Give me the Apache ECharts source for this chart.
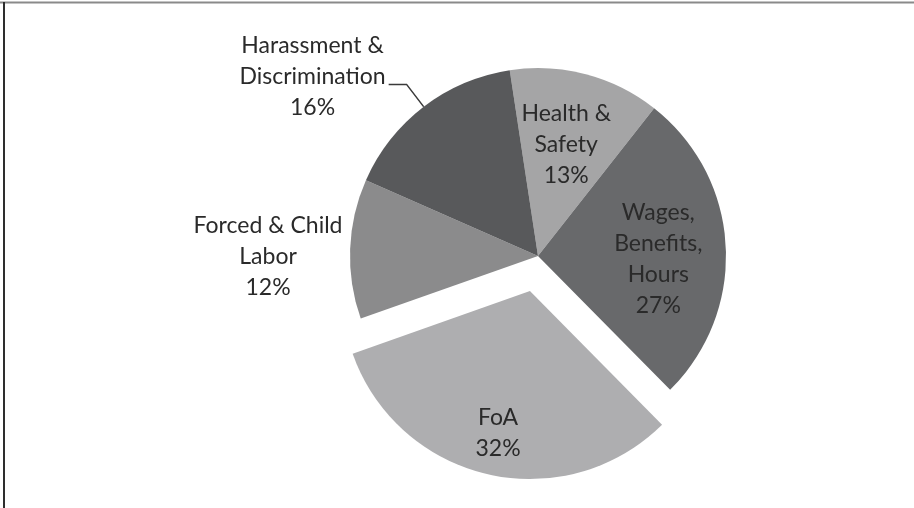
<!DOCTYPE html>
<html>
<head>
<meta charset="utf-8">
<title>Complaint categories</title>
<script src="https://cdn.jsdelivr.net/npm/echarts@6/dist/echarts.min.js"></script>
<style>
  html, body { margin: 0; padding: 0; background: #ffffff; }
  #chart { width: 914px; height: 508px; }
</style>
</head>
<body>
<div id="chart"></div>
<script>
// Share of cases by issue (percent), clockwise from the top
const categories = ['Health &\nSafety', 'Wages,\nBenefits,\nHours', 'FoA', 'Forced & Child\nLabor', 'Harassment &\nDiscrimination'];
const shares = [13, 27, 32, 12, 16];
const sliceColors = ['#a5a5a6', '#68696b', '#aeaeb0', '#8b8b8c', '#58595b'];
const pulledOut = 'FoA';

// Pie geometry
const CX = 538, CY = 256, R = 188;
const START_ANGLE = 98.65;
const PULL = 36;

// Label placement per slice: radial factor (of R) and angle tweak (deg)
const labelSpots = [
  { r: 0.61, da: 0.5 },
  { r: 0.64, da: -4.5 },
  { r: 0.775, da: 0.3 },
  { r: 1.436, da: 2.2 },
  null // leader-line label
];

const total = shares.reduce((a, b) => a + b, 0);
const pulledIndex = categories.indexOf(pulledOut);

function midAngle(i) {
  let before = 0;
  for (let k = 0; k < i; k++) before += shares[k];
  return START_ANGLE - (before + shares[i] / 2) / total * 360;
}
function polar(cx, cy, deg, r) {
  const a = deg * Math.PI / 180;
  return [cx + r * Math.cos(a), cy - r * Math.sin(a)];
}
// The pulled-out slice is drawn by a second pie whose centre is shifted along the slice's bisector
const pulledCenter = polar(CX, CY, midAngle(pulledIndex), PULL);

function buildData(visibleFn) {
  return categories.map((name, i) => {
    const visible = visibleFn(i);
    const item = {
      name: name,
      value: shares[i],
      itemStyle: { color: visible ? sliceColors[i] : 'rgba(0,0,0,0)' },
      label: { show: visible },
      labelLine: { show: false }
    };
    if (visible && labelSpots[i] === null) {
      item.label.position = 'outside';
      item.labelLine = { show: true, length: 28, length2: 18 };
    } else if (visible && labelSpots[i].r > 1) {
      item.label.position = 'outside';
    }
    return item;
  });
}

function layoutLabel(params) {
  const i = params.dataIndex;
  const mid = midAngle(i);
  const spot = labelSpots[i];
  if (spot) {
    const c = i === pulledIndex ? pulledCenter : [CX, CY];
    const p = polar(c[0], c[1], mid + spot.da, R * spot.r);
    return { x: p[0], y: p[1], align: 'center', verticalAlign: 'middle' };
  }
  const edge = polar(CX, CY, mid, R);
  const elbow = polar(CX, CY, mid, R + 28);
  const end = [elbow[0] - 18, elbow[1]];
  const w = params.labelRect.width;
  return {
    x: end[0] - 3 - w / 2,
    y: elbow[1] - 8,
    align: 'center',
    verticalAlign: 'middle',
    labelLinePoints: [edge, elbow, end]
  };
}

const baseSeries = {
  type: 'pie',
  radius: R,
  startAngle: START_ANGLE,
  clockwise: true,
  avoidLabelOverlap: false,
  silent: true,
  emphasis: { disabled: true },
  itemStyle: { borderWidth: 0 },
  label: {
    show: true,
    position: 'inside',
    formatter: p => p.name + '\n' + p.value + '%',
    fontFamily: 'Lato',
    fontSize: 23,
    lineHeight: 31,
    color: '#2a2a2a',
    align: 'center'
  },
  labelLine: {
    lineStyle: { color: '#3a3a3a', width: 1.3 }
  },
  labelLayout: layoutLabel
};

const chart = echarts.init(document.getElementById('chart'), null, { renderer: 'canvas' });

chart.setOption({
  backgroundColor: '#ffffff',
  animation: false,
  graphic: [
    { type: 'line', shape: { x1: 0, y1: 2.5, x2: 914, y2: 2.5 }, style: { stroke: '#8a8a8a', lineWidth: 2 } },
    { type: 'line', shape: { x1: 4, y1: 2, x2: 4, y2: 508 }, style: { stroke: '#2e2e2e', lineWidth: 2 } }
  ],
  series: [
    Object.assign({}, baseSeries, {
      name: 'main',
      center: [CX, CY],
      data: buildData(i => i !== pulledIndex)
    }),
    Object.assign({}, baseSeries, {
      name: 'pulled',
      center: pulledCenter,
      data: buildData(i => i === pulledIndex)
    })
  ]
});
</script>
</body>
</html>
